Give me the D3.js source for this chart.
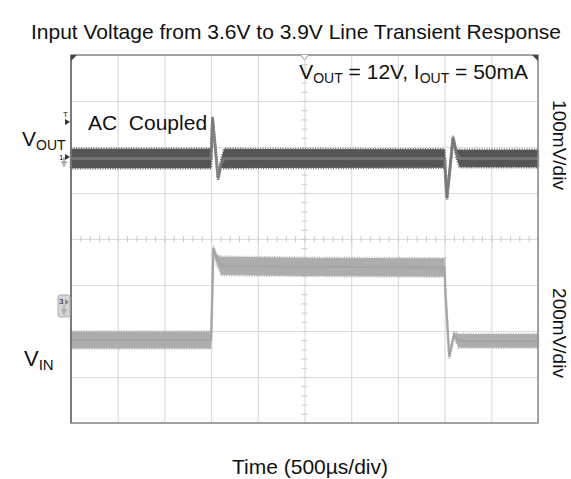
<!DOCTYPE html>
<html>
<head>
<meta charset="UTF-8">
<title>Line Transient Response</title>
<script src="https://d3js.org/d3.v7.min.js"></script>
<style>
body { margin: 0; background: #fff; }
text { font-family: "Liberation Sans", Arial, sans-serif; fill: #111; }
</style>
</head>
<body>
<div id="chart"></div>
<script>
// time axis, 500us/div
var timeDomain = [0, 5000];
var timeGrid = [0, 500, 1000, 1500, 2000, 2500, 3000, 3500, 4000, 4500, 5000];

// channel 1: VOUT, AC coupled, mV from the channel marker (100mV/div)
var voutTime  = [0, 1500, 1515, 1545, 1575, 1605, 1640, 4000, 4025, 4060, 4090, 4125, 4160, 5000];
var voutMv    = [-3, -3, 85, 20, -46, -15, -3, -3, -89, -20, 43, 8, -3, -3];
var voutNoise = [21, 21, 3, 3, 3, 8, 21, 20, 3, 3, 3, 8, 19, 19];

// channel 3: VIN in volts (200mV/div)
var vinTime  = [0, 1500, 1525, 1560, 1610, 2500, 4000, 4010, 4050, 4100, 4150, 5000];
var vinV     = [3.60, 3.60, 4.00, 3.95, 3.922, 3.918, 3.915, 3.80, 3.527, 3.622, 3.596, 3.596];
var vinNoise = [0.037, 0.037, 0.008, 0.02, 0.04, 0.04, 0.04, 0.008, 0.008, 0.012, 0.03, 0.03];

var W = 571, H = 479;
var plot = {left: 71, right: 538, top: 55, bottom: 423};

var svg = d3.select("#chart").append("svg")
    .attr("width", W)
    .attr("height", H);

var x = d3.scaleLinear().domain(timeDomain).range([plot.left, plot.right]);
// vertical scales share the 8 screen divisions
var yOut = d3.scaleLinear().domain([-578, 222]).range([plot.bottom, plot.top]);
var yIn = d3.scaleLinear().domain([3.239, 4.839]).range([plot.bottom, plot.top]);
var yDiv = d3.scaleLinear().domain([0, 8]).range([plot.bottom, plot.top]);

// title
svg.append("text")
    .attr("x", 296).attr("y", 39)
    .attr("text-anchor", "middle")
    .style("font-size", "21px")
    .text("Input Voltage from 3.6V to 3.9V Line Transient Response");

// grid
var grid = svg.append("g").attr("class", "grid");
grid.append("g")
    .attr("transform", "translate(0," + plot.bottom + ")")
    .call(d3.axisBottom(x).tickValues(timeGrid).tickSize(-(plot.bottom - plot.top)).tickFormat(""));
grid.append("g")
    .attr("transform", "translate(" + plot.left + ",0)")
    .call(d3.axisLeft(yDiv).ticks(8).tickSize(-(plot.right - plot.left)).tickFormat(""));
grid.selectAll(".domain").remove();
grid.selectAll("line").attr("stroke", "#dcdcdc").attr("stroke-width", 1.2);

// minor ticks on the centre crosshair
var minorT = d3.range(0, 5001, 100);
var minorV = d3.range(0, 8.01, 0.2);
var midY = yDiv(4), midX = x(2500);
[d3.axisTop, d3.axisBottom].forEach(function(ax) {
    svg.append("g").attr("class", "minor")
        .attr("transform", "translate(0," + midY + ")")
        .call(ax(x).tickValues(minorT).tickSize(3).tickFormat(""));
});
[d3.axisLeft, d3.axisRight].forEach(function(ax) {
    svg.append("g").attr("class", "minor")
        .attr("transform", "translate(" + midX + ",0)")
        .call(ax(yDiv).tickValues(minorV).tickSize(3).tickFormat(""));
});
svg.selectAll(".minor .domain").remove();
svg.selectAll(".minor line").attr("stroke", "#c8c8c8");

// traces
function band(times, vals, noise, y) {
    var pts = times.map(function(t, i) { return {t: t, v: vals[i], n: noise[i]}; });
    return {
        area: d3.area()
            .x(function(d) { return x(d.t); })
            .y0(function(d) { return y(d.v - d.n); })
            .y1(function(d) { return y(d.v + d.n); })(pts),
        line: d3.line()
            .x(function(d) { return x(d.t); })
            .y(function(d) { return y(d.v); })(pts)
    };
}

var vin = band(vinTime, vinV, vinNoise, yIn);
svg.append("path").attr("d", vin.area)
    .attr("fill", "#adadad")
    .attr("stroke", "#b6b6b6").attr("stroke-width", 2.5)
    .attr("stroke-dasharray", "1 1.5");
svg.append("path").attr("d", vin.line)
    .attr("fill", "none").attr("stroke", "#a4a4a4").attr("stroke-width", 2);

var vout = band(voutTime, voutMv, voutNoise, yOut);
svg.append("path").attr("d", vout.area)
    .attr("fill", "#555")
    .attr("stroke", "#606060").attr("stroke-width", 2.5)
    .attr("stroke-dasharray", "1 1.5");
svg.append("path").attr("d", vout.line)
    .attr("fill", "none").attr("stroke", "#7a7a7a").attr("stroke-width", 3)
    .attr("opacity", 0.8);

// frame
svg.append("rect")
    .attr("x", plot.left).attr("y", plot.top)
    .attr("width", plot.right - plot.left).attr("height", plot.bottom - plot.top)
    .attr("fill", "none").attr("stroke", "#8a8a8a").attr("stroke-width", 1.5);
svg.append("line")
    .attr("x1", plot.left).attr("x2", plot.left)
    .attr("y1", plot.top).attr("y2", plot.bottom)
    .attr("stroke", "#6e6e6e").attr("stroke-width", 1.5);
svg.append("path")
    .attr("d", "M" + plot.left + "," + plot.top + "h6l-6,6z")
    .attr("fill", "#444");
svg.append("path")
    .attr("d", "M" + plot.right + "," + plot.top + "h-6l6,6z")
    .attr("fill", "#444");
// trigger position marker
svg.append("path")
    .attr("d", "M" + (midX - 4) + "," + plot.top + "l4,5l4,-5")
    .attr("fill", "#fff").attr("stroke", "#999");

// channel markers on the left edge
var mk = svg.append("g").style("font-size", "8px");
mk.append("text").attr("x", 63).attr("y", yOut(85) - 1).attr("fill", "#666").text("T");
mk.append("path").attr("d", "M65," + (yOut(85) + 1) + "l5,3l-5,3z").attr("fill", "#333");
mk.append("text").attr("x", 59).attr("y", yOut(0) + 3).attr("fill", "#555").text("1");
mk.append("path").attr("d", "M65," + (yOut(0) - 3) + "l5,3l-5,3z").attr("fill", "#333");
mk.append("path").attr("d", "M64," + (yOut(0)) + "v5m-3,0h6m-5,2h4m-3,2h2")
    .attr("stroke", "#555").attr("fill", "none").attr("stroke-width", 0.8);
var m3 = yIn(3.6) - 35;
mk.append("rect").attr("x", 58).attr("y", m3 - 10).attr("width", 12).attr("height", 22)
    .attr("rx", 2).attr("fill", "#d6d6d6").attr("stroke", "#b0b0b0");
mk.append("text").attr("x", 59).attr("y", m3 - 1).attr("fill", "#888").text("3");
mk.append("path").attr("d", "M65," + (m3 - 6) + "l4,3l-4,3z").attr("fill", "#888");
mk.append("path").attr("d", "M64," + m3 + "v5m-3,0h6m-5,2h4m-3,2h2")
    .attr("stroke", "#888").attr("fill", "none").attr("stroke-width", 0.8);

// labels
function subLabel(xp, yp, main, sub, size) {
    var t = svg.append("text").attr("x", xp).attr("y", yp)
        .style("font-size", size + "px");
    t.append("tspan").text(main);
    t.append("tspan").attr("dy", 4).style("font-size", Math.round(size * 0.66) + "px").text(sub);
    return t;
}
subLabel(22, 146, "V", "OUT", 21);
subLabel(24, 366, "V", "IN", 22);

svg.append("text")
    .attr("x", 88).attr("y", 130)
    .style("font-size", "21px")
    .text("AC\u00a0 Coupled");

var cond = svg.append("text")
    .attr("x", 528).attr("y", 79)
    .attr("text-anchor", "end")
    .style("font-size", "21px");
cond.append("tspan").text("V");
cond.append("tspan").attr("dy", 4).style("font-size", "14px").text("OUT");
cond.append("tspan").attr("dy", -4).text(" = 12V, I");
cond.append("tspan").attr("dy", 4).style("font-size", "14px").text("OUT");
cond.append("tspan").attr("dy", -4).text(" = 50mA");

svg.append("text")
    .attr("transform", "translate(553,145) rotate(90)")
    .attr("text-anchor", "middle")
    .style("font-size", "19px")
    .text("100mV/div");
svg.append("text")
    .attr("transform", "translate(553,333) rotate(90)")
    .attr("text-anchor", "middle")
    .style("font-size", "19px")
    .text("200mV/div");

svg.append("text")
    .attr("x", 310).attr("y", 474)
    .attr("text-anchor", "middle")
    .style("font-size", "21px")
    .text("Time (500\u00b5s/div)");
</script>
</body>
</html>
